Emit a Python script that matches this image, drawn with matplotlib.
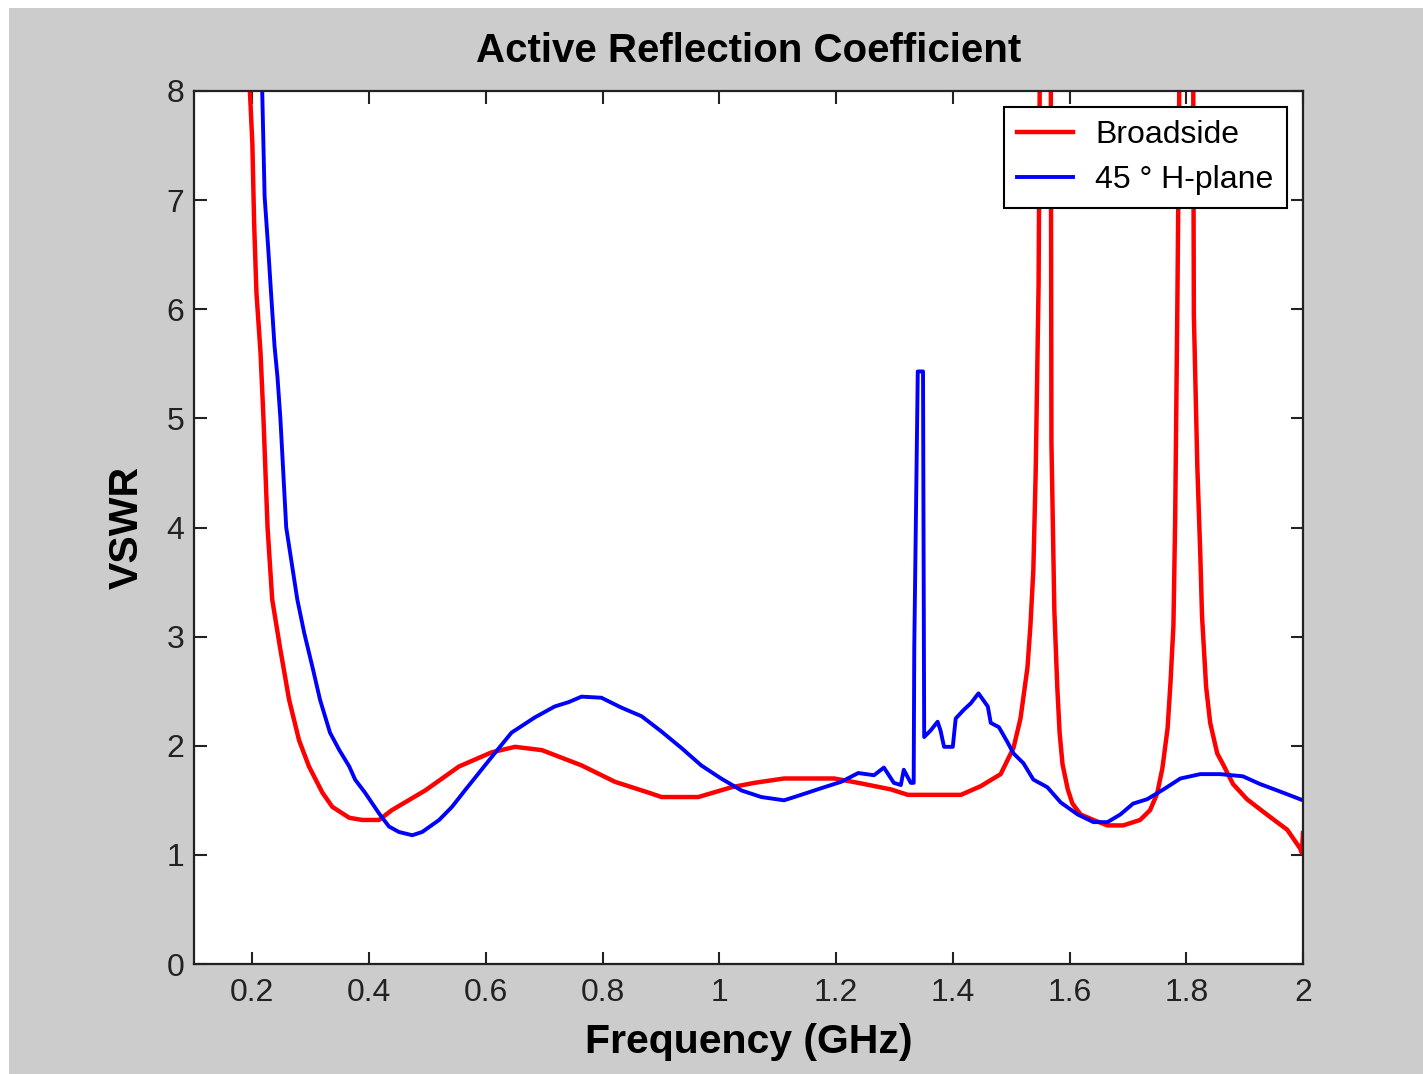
import numpy as np
import matplotlib.pyplot as plt
from matplotlib.patches import Rectangle
from matplotlib.ticker import FormatStrFormatter

plt.rcParams['font.family'] = ['Liberation Sans', 'DejaVu Sans']

# broadside scan
broadside_freq = [0.194, 0.200, 0.203, 0.207, 0.214, 0.219, 0.226, 0.234, 0.248, 0.263,
                  0.280, 0.297, 0.320, 0.337, 0.366, 0.388, 0.417, 0.439, 0.496, 0.554,
                  0.610, 0.650, 0.696, 0.764, 0.821, 0.879, 0.901, 0.964, 1.021, 1.060,
                  1.111, 1.197, 1.238, 1.294, 1.323, 1.414, 1.448, 1.482, 1.504, 1.516,
                  1.528, 1.533, 1.538, 1.542, 1.547, 1.549, 1.558, 1.568, 1.569, 1.574,
                  1.579, 1.583, 1.588, 1.597, 1.605, 1.619, 1.641, 1.665, 1.692, 1.721,
                  1.738, 1.750, 1.759, 1.768, 1.773, 1.778, 1.781, 1.785, 1.788, 1.800,
                  1.812, 1.813, 1.819, 1.824, 1.827, 1.834, 1.841, 1.853, 1.863, 1.880,
                  1.904, 1.938, 1.973, 1.995, 1.998, 2.000]
broadside_vswr = [8.2, 7.52, 6.79, 6.15, 5.60, 5.00, 4.00, 3.34, 2.88, 2.42,
                  2.05, 1.81, 1.57, 1.44, 1.34, 1.32, 1.32, 1.41, 1.59, 1.81,
                  1.94, 1.99, 1.96, 1.82, 1.67, 1.57, 1.53, 1.53, 1.62, 1.66,
                  1.70, 1.70, 1.66, 1.60, 1.55, 1.55, 1.63, 1.74, 1.98, 2.25,
                  2.72, 3.10, 3.61, 4.50, 6.23, 8.1, 9.0, 8.0, 4.78, 3.24,
                  2.54, 2.12, 1.83, 1.60, 1.47, 1.37, 1.32, 1.27, 1.27, 1.32,
                  1.41, 1.56, 1.79, 2.16, 2.58, 3.10, 4.08, 6.19, 8.0, 9.0,
                  8.0, 5.95, 4.55, 3.76, 3.19, 2.54, 2.21, 1.93, 1.83, 1.65,
                  1.51, 1.37, 1.23, 1.06, 1.02, 1.20]

# 45 deg H-plane scan
hplane_freq = [0.216, 0.221, 0.227, 0.232, 0.238, 0.243, 0.248, 0.258, 0.277, 0.289,
               0.303, 0.316, 0.333, 0.349, 0.366, 0.376, 0.393, 0.417, 0.434, 0.451,
               0.474, 0.491, 0.520, 0.542, 0.564, 0.588, 0.615, 0.644, 0.684, 0.718,
               0.742, 0.764, 0.798, 0.832, 0.867, 0.901, 0.935, 0.969, 1.003, 1.038,
               1.072, 1.111, 1.140, 1.174, 1.209, 1.238, 1.265, 1.282, 1.299, 1.311,
               1.316, 1.328, 1.333, 1.334, 1.337, 1.340, 1.349, 1.350, 1.351, 1.362,
               1.374, 1.379, 1.385, 1.400, 1.405, 1.419, 1.431, 1.444, 1.460, 1.465,
               1.479, 1.494, 1.504, 1.521, 1.538, 1.562, 1.585, 1.614, 1.641, 1.665,
               1.687, 1.709, 1.733, 1.761, 1.790, 1.824, 1.858, 1.897, 1.926, 1.961,
               1.995, 2.000]
hplane_vswr = [8.2, 7.03, 6.57, 6.15, 5.66, 5.38, 5.00, 4.00, 3.34, 3.03,
               2.72, 2.42, 2.12, 1.96, 1.81, 1.69, 1.57, 1.38, 1.26, 1.21,
               1.18, 1.21, 1.32, 1.44, 1.59, 1.75, 1.93, 2.12, 2.26, 2.36,
               2.40, 2.45, 2.44, 2.35, 2.27, 2.13, 1.98, 1.82, 1.70, 1.59,
               1.53, 1.50, 1.55, 1.61, 1.67, 1.75, 1.73, 1.80, 1.66, 1.64,
               1.78, 1.66, 1.66, 2.90, 4.16, 5.43, 5.43, 3.75, 2.08, 2.14,
               2.22, 2.14, 1.99, 1.99, 2.25, 2.33, 2.39, 2.48, 2.36, 2.21,
               2.17, 2.03, 1.93, 1.84, 1.69, 1.62, 1.48, 1.37, 1.30, 1.30,
               1.37, 1.47, 1.51, 1.60, 1.70, 1.74, 1.74, 1.72, 1.65, 1.58,
               1.51, 1.50]

W, H = 1423, 1074
fig = plt.figure(figsize=(W / 100, H / 100), dpi=100)
fig.patch.set_facecolor('white')
fig.patches.append(Rectangle((9 / W, 0), 1, (H - 8) / H, transform=fig.transFigure,
                             facecolor='#cccccc', edgecolor='none', zorder=-10))

ax = fig.add_axes([194 / W, 1 - 964 / H, (1303 - 194) / W, (964 - 91) / H])
ax.set_facecolor('white')

ax.plot(broadside_freq, broadside_vswr, color='#ff0000', lw=3.2, label='Broadside')
ax.plot(hplane_freq, hplane_vswr, color='#0000ff', lw=2.8, label='45 \u00b0 H-plane')

ax.set_xlim(0.1, 2)
ax.set_ylim(0, 8)
ax.set_xticks(np.arange(0.2, 2.01, 0.2))
ax.set_yticks(range(0, 9))
ax.xaxis.set_major_formatter(FormatStrFormatter('%g'))

for s in ax.spines.values():
    s.set_linewidth(1.6)
    s.set_color('#222222')
ax.tick_params(direction='in', length=9, width=1.5, color='#222222',
               top=True, right=True, labelsize=23, labelcolor='#222222')
ax.tick_params(axis='x', pad=10)
ax.tick_params(axis='y', pad=7)

ax.set_title('Active Reflection Coefficient', fontsize=29, fontweight='bold', pad=21)
ax.set_xlabel('Frequency (GHz)', fontsize=29.5, fontweight='bold', labelpad=11)
ax.set_ylabel('VSWR', fontsize=29.5, fontweight='bold', labelpad=15)

leg = ax.legend(loc='upper right', fontsize=23, frameon=True, fancybox=False,
                framealpha=1, edgecolor='black', handlelength=1.75,
                handletextpad=0.7, labelspacing=0.45, borderpad=0.42,
                borderaxespad=0.5)
leg.get_frame().set_linewidth(1.5)

fig.savefig('out.png', dpi=100, facecolor=fig.get_facecolor())
